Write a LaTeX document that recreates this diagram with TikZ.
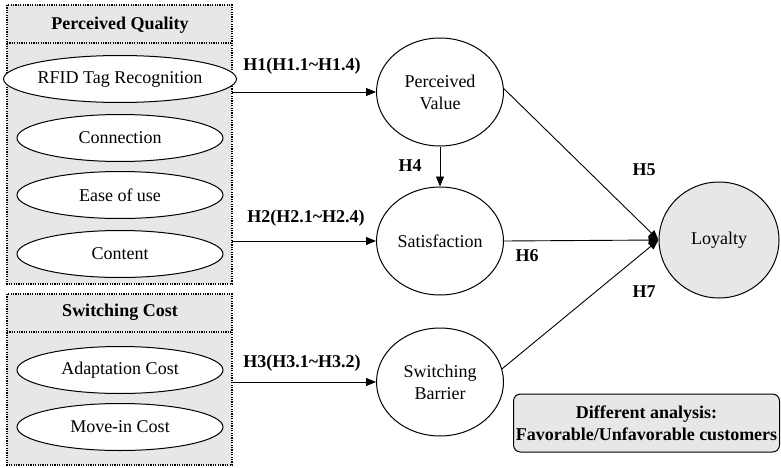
\documentclass[tikz,border=0pt]{standalone}
\usepackage{fontspec}
\setmainfont{Liberation Serif}
\usetikzlibrary{shapes.geometric,arrows.meta}
\definecolor{boxgray}{HTML}{E6E7E9}
\tikzset{
  every node/.style={font=\fontsize{18}{22}\selectfont},
  dotbox/.style={draw, fill=boxgray, line width=1.3pt, dash pattern=on 1.2pt off 1.2pt},
  dotline/.style={draw, line width=1.3pt, dash pattern=on 1.2pt off 1.2pt},
  item/.style={ellipse, draw, fill=white, line width=1pt, minimum width=206pt, minimum height=47pt, inner sep=0pt},
  construct/.style={ellipse, draw, fill=white, line width=1pt, minimum width=127pt, minimum height=108pt, inner sep=0pt, align=center},
  hlab/.style={font=\fontsize{18}{22}\selectfont\bfseries},
  arr/.style={-{Triangle[length=10pt,width=8pt]}, line width=0.9pt},
}
\begin{document}
\begin{tikzpicture}[x=1pt,y=-1pt]
\useasboundingbox (0,0) rectangle (781,468);
% Perceived Quality box
\path[dotbox] (7,5) rectangle (232,284);
\path[dotline] (7,43) -- (232,43);
\node[hlab] (pqt) at (120,25) {Perceived Quality};
\node[item] (rfid) at (120,79) {RFID Tag Recognition};
\node[item] (conn) at (120,138) {Connection};
\node[item] (ease) at (120,195) {Ease of use};
\node[item] (cont) at (120,254) {Content};
% Switching Cost box
\path[dotbox] (7,294) rectangle (232,465);
\path[dotline] (7,332) -- (232,332);
\node[hlab] (sct) at (120,312) {Switching Cost};
\node[item] (adap) at (120,370) {Adaptation Cost};
\node[item] (move) at (120,427) {Move-in Cost};
% constructs
\node[construct] (pv) at (440,92) {Perceived\\Value};
\node[construct] (sat) at (440,241) {Satisfaction};
\node[construct] (sb) at (440,382) {Switching\\Barrier};
\node[ellipse, draw, fill=boxgray, line width=1pt, minimum width=120pt, minimum height=116pt, inner sep=0pt] (loy) at (719,240) {Loyalty};
% arrow sources
\coordinate (s1) at (232,92);
\coordinate (s2) at (232,241);
\coordinate (s3) at (232,382);
\draw[arr] (s1) -- (pv.west);
\draw[arr] (s2) -- (sat.west);
\draw[arr] (s3) -- (sb.west);
\draw[arr] (pv.south) -- (sat.north);
\draw[arr] (pv.3) -- (loy.west);
\draw[arr] (sat.east) -- (loy.west);
\draw[arr] (sb.12) -- (loy.west);
% labels
\node[hlab] (h1) at (302,66) {H1(H1.1\textasciitilde H1.4)};
\node[hlab] (h2) at (306,218) {H2(H2.1\textasciitilde H2.4)};
\node[hlab] (h3) at (302,363) {H3(H3.1\textasciitilde H3.2)};
\node[hlab] (h4) at (410,166) {H4};
\node[hlab] (h5) at (644,170) {H5};
\node[hlab] (h6) at (527,256) {H6};
\node[hlab] (h7) at (644,292) {H7};
% different analysis box
\node[draw, fill=boxgray, rounded corners=7pt, line width=1pt, minimum width=266pt, minimum height=58pt, align=center, inner sep=0pt, font=\fontsize{18}{22}\selectfont\bfseries] (diff) at (646.5,423) {Different analysis:\\Favorable/Unfavorable customers};
\end{tikzpicture}
\end{document}
